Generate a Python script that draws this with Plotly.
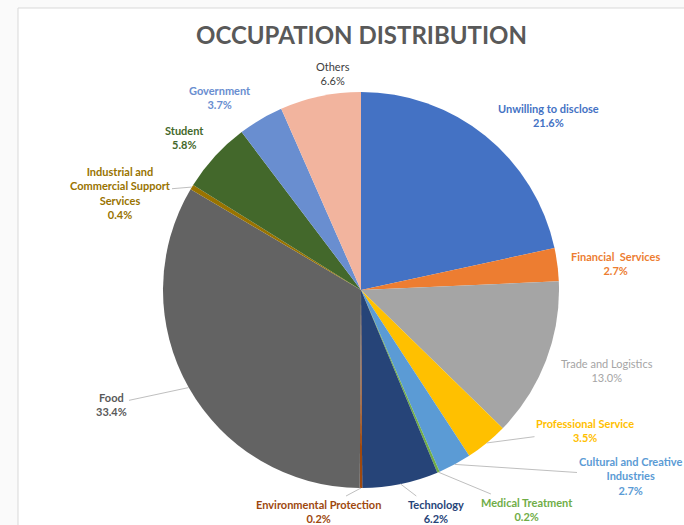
import math
import plotly.graph_objects as go

# ---- data ----
categories = ["Unwilling to disclose", "Financial Services", "Trade and Logistics",
              "Professional Service", "Cultural and Creative Industries", "Medical Treatment",
              "Technology", "Environmental Protection", "Food",
              "Industrial and Commercial Support Services", "Student", "Government", "Others"]
values = [21.6, 2.7, 13.0, 3.5, 2.7, 0.2, 6.2, 0.2, 33.4, 0.4, 5.8, 3.7, 6.6]
label_text = ["Unwilling to disclose", "Financial  Services", "Trade and Logistics",
              "Professional Service", "Cultural and Creative<br>Industries", "Medical Treatment",
              "Technology", "Environmental Protection", "Food",
              "Industrial and<br>Commercial Support<br>Services", "Student", "Government", "Others"]
colors = ["#4472C4", "#ED7D31", "#A5A5A5", "#FFC000", "#5B9BD5", "#70AD47",
          "#264478", "#9E480E", "#636363", "#997300", "#43682B", "#698ED0", "#F2B49E"]
text_colors = ["#4472C4", "#ED7D31", "#A5A5A5", "#FFC000", "#5B9BD5", "#70AD47",
               "#264478", "#9E480E", "#595959", "#997300", "#43682B", "#698ED0", "#404040"]
bold = [True, True, False, True, True, True, True, True, True, True, True, True, False]

# ---- layout geometry (pixels) ----
W, H = 684, 525
CX, CY, R = 361, 290, 198
# label centres in pixels, and whether a leader line is drawn
label_pos = [(548, 115), (615, 263), (607, 370), (585, 430), (630, 476), (527, 509),
             (436, 511), (318, 511), (112, 404), (120, 193), (184, 137), (220, 97), (333, 73)]
leader = [False, False, False, True, True, True, True, True, True, True, False, False, False]

fig = go.Figure(go.Pie(
    labels=categories, values=values, sort=False, direction="clockwise", rotation=0,
    marker=dict(colors=colors, line=dict(width=0)),
    textinfo="none", hoverinfo="label+percent", showlegend=False,
    domain=dict(x=[(CX - R) / W, (CX + R) / W], y=[1 - (CY + R) / H, 1 - (CY - R) / H]),
))

total = sum(values)
cum = 0.0
annotations = []
for i, v in enumerate(values):
    mid = (cum + v / 2) / total
    cum += v
    ang = 2 * math.pi * mid
    tx = CX + R * math.sin(ang)
    ty = CY - R * math.cos(ang)
    lx, ly = label_pos[i]
    txt = f"{label_text[i]}<br>{v:.1f}%"
    if bold[i]:
        txt = f"<b>{txt}</b>"
    font = dict(family="Lato", size=11, color=text_colors[i])
    if leader[i]:
        annotations.append(dict(
            x=tx / W, y=1 - ty / H, xref="paper", yref="paper",
            ax=lx - tx, ay=ly - ty, axref="pixel", ayref="pixel",
            text=txt, showarrow=True, arrowhead=0, arrowwidth=1, arrowcolor="#BFBFBF",
            font=font, align="center", standoff=0))
    else:
        annotations.append(dict(
            x=lx / W, y=1 - ly / H, xref="paper", yref="paper",
            xanchor="center", yanchor="middle", text=txt, showarrow=False,
            font=font, align="center"))

annotations.append(dict(
    x=CX / W, y=1 - 35 / H, xref="paper", yref="paper", xanchor="center", yanchor="middle",
    text="<b>OCCUPATION DISTRIBUTION</b>", showarrow=False,
    font=dict(family="Lato", size=24, color="#595959")))

fig.update_layout(
    width=W, height=H, margin=dict(l=0, r=0, t=0, b=0),
    paper_bgcolor="#FAFAFA", plot_bgcolor="white",
    annotations=annotations,
    shapes=[dict(type="rect", xref="paper", yref="paper", x0=18 / W, x1=1.01, y0=-0.01,
                 y1=1 - 8 / H, fillcolor="white", line=dict(color="#D9D9D9", width=1),
                 layer="below")],
)
fig.write_html("out.html", config={"displayModeBar": False},
               post_script="document.body.style.margin='0';document.body.style.overflow='hidden';")
